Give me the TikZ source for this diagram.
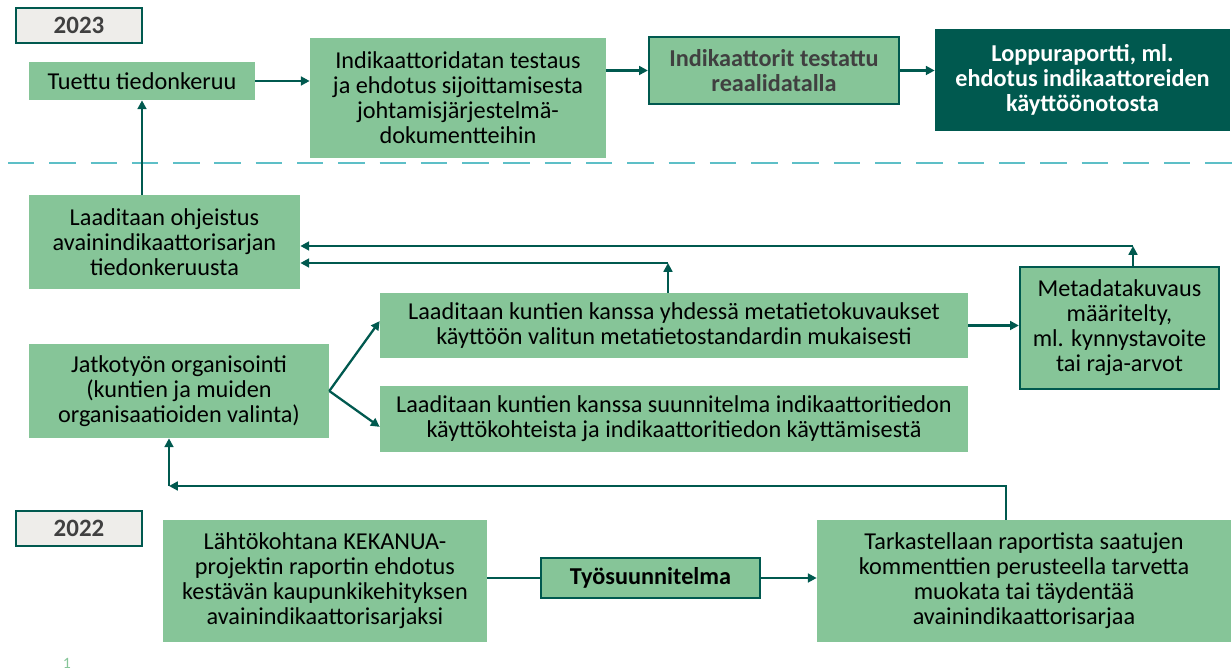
\documentclass[tikz,border=0pt]{standalone}
\usepackage{fontspec}
\setmainfont{Carlito}
\usetikzlibrary{arrows.meta}
\definecolor{boxgreen}{HTML}{86C598}
\definecolor{darkteal}{HTML}{00594F}
\definecolor{yeargray}{HTML}{EEEDEA}
\definecolor{dashblue}{HTML}{5DBFC7}
\definecolor{boldgray}{HTML}{404040}
\tikzset{
  box/.style={fill=boxgreen,align=center,inner sep=2pt,font=\fontsize{13.8}{14.2}\selectfont},
  framed/.style={box,draw=darkteal,line width=1.3pt,font=\fontsize{13.8}{14.2}\selectfont\bfseries,text=boldgray},
  darkbox/.style={fill=darkteal,align=center,inner sep=2pt,text=white,font=\fontsize{13.8}{14.2}\selectfont\bfseries},
  yearbox/.style={fill=yeargray,draw=darkteal,line width=1pt,minimum width=2.52cm,minimum height=0.7cm,font=\fontsize{14.2}{15}\selectfont\bfseries,text=boldgray},
  arr/.style={draw=darkteal,line width=1.3pt,-{Triangle[length=5pt,width=5pt]}},
  plain/.style={draw=darkteal,line width=1.3pt}
}
\begin{document}
\begin{tikzpicture}[x=0.02cm,y=-0.02cm]
\useasboundingbox (0,0) rectangle (1232,671);
% 2023
\node[yearbox] (y23) at (79,25.5) {2023};
\node[box,minimum width=4.52cm,minimum height=0.76cm] (tuettu) at (142,81) {Tuettu tiedonkeruu};
\node[box,minimum width=5.92cm,minimum height=2.4cm] (testaus) at (458,98) {Indikaattoridatan testaus\\ja ehdotus sijoittamisesta\\johtamisjärjestelmä-\\dokumentteihin};
\node[framed,minimum width=5cm,minimum height=1.34cm] (testattu) at (774,70.5) {Indikaattorit testattu\\reaalidatalla};
\node[darkbox,minimum width=5.9cm,minimum height=2.04cm] (loppu) at (1082.5,80) {Loppuraportti, ml.\\ehdotus indikaattoreiden\\käyttöönotosta};
\draw[arr] (tuettu.east) -- (testaus.west |- tuettu.east);
\draw[arr] (testaus.east |- testattu) -- (testattu.west);
\draw[arr] (testattu.east) -- (loppu.west |- testattu.east);
% year border
\draw[dashblue,line width=1.2pt,dash pattern=on 15pt off 8.5pt] (8,163) -- (1232,163);
% 2022 (upper part)
\node[box,minimum width=5.42cm,minimum height=1.88cm] (ohjeistus) at (164.5,242) {Laaditaan ohjeistus\\avainindikaattorisarjan\\tiedonkeruusta};
\node[box,minimum width=6cm,minimum height=1.88cm] (jatko) at (179,391) {Jatkotyön organisointi\\(kuntien ja muiden\\organisaatioiden valinta)};
\node[box,minimum width=11.76cm,minimum height=1.3cm] (metatieto) at (674,325.5) {Laaditaan kuntien kanssa yhdessä metatietokuvaukset\\käyttöön valitun metatietostandardin mukaisesti};
\node[box,minimum width=11.76cm,minimum height=1.32cm] (suunnitelma) at (674,419) {Laaditaan kuntien kanssa suunnitelma indikaattoritiedon\\käyttökohteista ja indikaattoritiedon käyttämisestä};
\node[framed,font=\fontsize{13.8}{14.2}\selectfont,text=black,minimum width=3.98cm,minimum height=2.44cm] (mdata) at (1119.5,328) {Metadatakuvaus\\määritelty,\\ml. kynnystavoite\\tai raja-arvot};
\draw[arr] (tuettu |- ohjeistus.north) -- (tuettu.south);
\draw[arr] (jatko.east) -- ([yshift=2.5pt]metatieto.west);
\draw[arr] (jatko.east) -- ([yshift=-4.5pt]suunnitelma.west);
\draw[arr] (metatieto.east) -- (mdata.west |- metatieto.east);
\coordinate (c1) at (668,263);
\coordinate (c2) at (1133,246);
\draw[arr] (metatieto.north -| c1) -- (c1);
\draw[arr] (c1) -- (ohjeistus.east |- c1);
\draw[arr] (mdata.north -| c2) -- (c2);
\draw[arr] (c2) -- (ohjeistus.east |- c2);
% 2022
\node[yearbox] (y22) at (79,528.5) {2022};
\node[box,minimum width=6.48cm,minimum height=2.44cm] (lahto) at (325,581) {Lähtökohtana KEKANUA-\\projektin raportin ehdotus\\kestävän kaupunkikehityksen\\avainindikaattorisarjaksi};
\node[framed,text=black,minimum width=4.38cm,minimum height=0.8cm] (tyo) at (650.5,578) {Työsuunnitelma};
\node[box,minimum width=8.28cm,minimum height=2.44cm] (tark) at (1024,581) {Tarkastellaan raportista saatujen\\kommenttien perusteella tarvetta\\muokata tai täydentää\\avainindikaattorisarjaa};
\draw[plain] (lahto.east |- tyo) -- (tyo.west);
\draw[arr] (tyo.east) -- (tark.west |- tyo.east);
\coordinate (c3) at (1006,486);
\coordinate (c4) at (169,486);
\draw[arr] (tark.north -| c3) -- (c3) -- (c4);
\draw[arr] (c4) -- (jatko.south -| c4);
\node[text=boxgreen,font=\fontsize{9}{10}\selectfont] (sivu) at (67,663) {1};
\end{tikzpicture}
\end{document}
